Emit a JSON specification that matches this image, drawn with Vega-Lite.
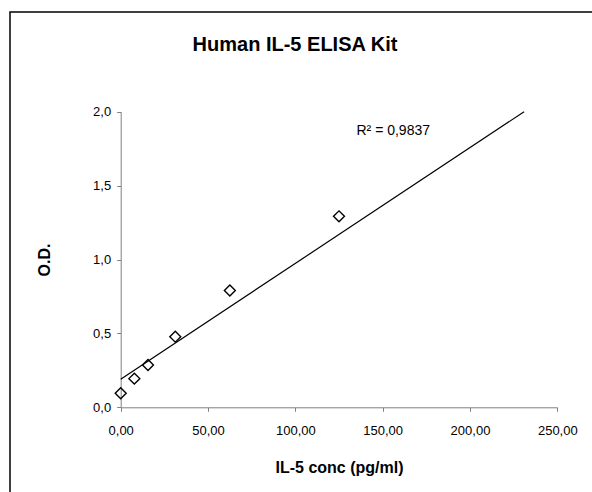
{
  "$schema": "https://vega.github.io/schema/vega-lite/v6.json",
  "width": 586,
  "height": 484,
  "autosize": {"type": "none"},
  "padding": {"left": 10, "top": 12, "right": -4, "bottom": -4},
  "background": "white",
  "config": {
    "view": {"stroke": "black", "strokeWidth": 1.5},
    "font": "Liberation Sans"
  },
  "title": {
    "text": "Human IL-5 ELISA Kit",
    "font": "Liberation Sans",
    "fontSize": 20,
    "fontWeight": "bold",
    "color": "black",
    "anchor": "middle",
    "frame": "group",
    "baseline": "alphabetic",
    "offset": -38,
    "dy": 21,
    "dx": -8
  },
  "datasets": {
    "points": [
      {"conc": 0, "od": 0.095},
      {"conc": 7.81, "od": 0.194},
      {"conc": 15.63, "od": 0.286},
      {"conc": 31.25, "od": 0.478},
      {"conc": 62.5, "od": 0.79},
      {"conc": 125, "od": 1.292}
    ],
    "trend": [
      {"conc": 0, "od": 0.19},
      {"conc": 231, "od": 2.0}
    ],
    "note": [
      {"conc": 135, "od": 1.84, "label": "R² = 0,9837"}
    ]
  },
  "encoding": {
    "x": {
      "field": "conc",
      "type": "quantitative",
      "scale": {"domain": [0, 250], "range": [110.7, 547.3], "nice": false},
      "axis": {
        "title": "IL-5 conc (pg/ml)",
        "orient": "bottom",
        "offset": -88.7,
        "values": [0, 50, 100, 150, 200, 250],
        "labelExpr": "replace(format(datum.value, '.2f'), '.', ',')",
        "labelFlush": false,
        "labelOverlap": false,
        "grid": false,
        "domainColor": "#808080",
        "tickColor": "#808080",
        "tickSize": 4,
        "labelColor": "black",
        "labelFontSize": 13,
        "labelPadding": 13,
        "labelFont": "Liberation Sans",
        "titleFont": "Liberation Sans",
        "titleFontSize": 16,
        "titleFontWeight": "bold",
        "titleColor": "black",
        "titlePadding": 22
      }
    },
    "y": {
      "field": "od",
      "type": "quantitative",
      "scale": {"domain": [0, 2], "range": [395.3, 99.7], "nice": false},
      "axis": {
        "title": "O.D.",
        "orient": "left",
        "offset": -110.7,
        "values": [0, 0.5, 1, 1.5, 2],
        "labelExpr": "replace(format(datum.value, '.1f'), '.', ',')",
        "labelFlush": false,
        "labelOverlap": false,
        "grid": false,
        "domainColor": "#808080",
        "tickColor": "#808080",
        "tickSize": 4,
        "labelColor": "black",
        "labelFontSize": 13,
        "labelPadding": 6,
        "labelFont": "Liberation Sans",
        "titleFont": "Liberation Sans",
        "titleFontSize": 16,
        "titleFontWeight": "bold",
        "titleColor": "black",
        "titlePadding": 40
      }
    }
  },
  "layer": [
    {
      "data": {"name": "trend"},
      "mark": {"type": "line", "color": "black", "strokeWidth": 1.2, "clip": false},
      "encoding": {}
    },
    {
      "data": {"name": "points"},
      "mark": {"type": "point", "shape": "diamond", "filled": false, "stroke": "black", "strokeWidth": 1.4, "size": 120, "opacity": 1},
      "encoding": {}
    },
    {
      "data": {"name": "note"},
      "mark": {"type": "text", "align": "left", "baseline": "alphabetic", "fontSize": 14, "font": "Liberation Sans", "color": "black"},
      "encoding": {"text": {"field": "label"}}
    }
  ]
}
